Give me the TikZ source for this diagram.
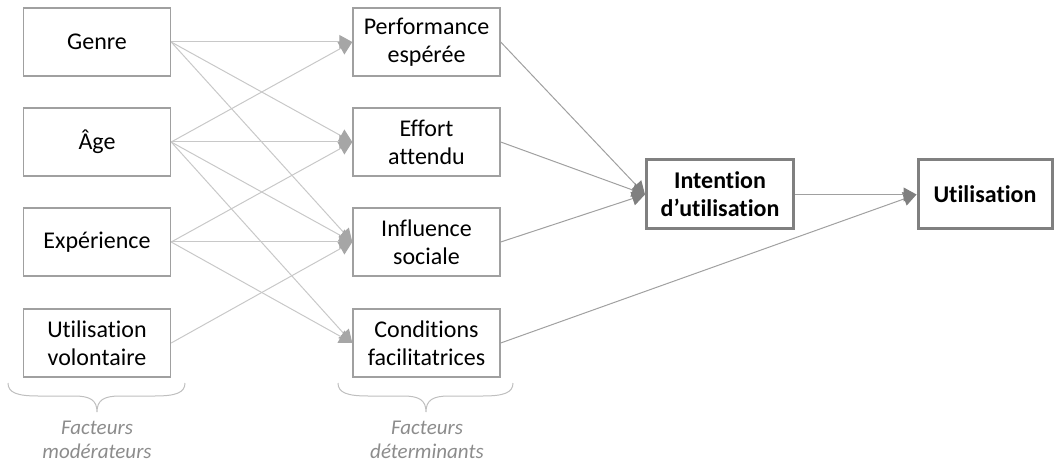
\documentclass[tikz,border=0pt]{standalone}
\usepackage{fontspec}
\setmainfont{Carlito}[RawFeature={-liga}]
\usetikzlibrary{arrows.meta}
\definecolor{boxgray}{HTML}{A0A0A0}
\definecolor{biggray}{HTML}{808080}
\definecolor{lightline}{HTML}{C8C8C8}
\definecolor{lighttip}{HTML}{A6A6A6}
\definecolor{darkline}{HTML}{A0A0A0}
\definecolor{darktip}{HTML}{7F7F7F}
\definecolor{bracegray}{HTML}{BFBFBF}
\definecolor{labelgray}{HTML}{8C8C8C}
\tikzset{
  smallbox/.style={draw=boxgray, line width=1.4pt, rectangle, minimum width=147pt, minimum height=68pt, inner sep=0pt, align=center, font=\fontsize{24}{28}\selectfont},
  bigbox/.style={draw=biggray, line width=3pt, rectangle, minimum height=69pt, inner sep=0pt, align=center, font=\bfseries\fontsize{24}{28}\selectfont},
  modline/.style={draw=lightline, line width=1pt, -{Triangle[length=13pt,width=14pt,color=lighttip]}},
  mainline/.style={draw=darkline, line width=1pt, -{Triangle[length=13pt,width=14pt,color=darktip]}},
  bracestyle/.style={draw=bracegray, line width=1pt},
  grouplabel/.style={text=labelgray, align=center, inner sep=0pt, font=\itshape\fontsize{21}{24}\selectfont}
}
\begin{document}
\begin{tikzpicture}[x=1pt,y=-1pt]
\useasboundingbox (0,0) rectangle (1055,465);
% left column
\node[smallbox] (genre) at (97,42) {Genre};
\node[smallbox] (age) at (97,142) {Âge};
\node[smallbox] (exp) at (97,242) {Expérience};
\node[smallbox] (vol) at (97,343) {Utilisation\\volontaire};
% middle column
\node[smallbox] (perf) at (426.5,42) {Performance\\espérée};
\node[smallbox] (eff) at (426.5,142) {Effort\\attendu};
\node[smallbox] (inf) at (426.5,242) {Influence\\sociale};
\node[smallbox] (cond) at (426.5,343) {Conditions\\facilitatrices};
% right
\node[bigbox, minimum width=147pt] (int) at (720,194.5) {Intention\\d’utilisation};
\node[bigbox, minimum width=134pt] (use) at (985,194.5) {Utilisation};
% moderators
\draw[modline] (genre.east) -- (perf.west);
\draw[modline] (genre.east) -- (eff.west);
\draw[modline] (genre.east) -- (inf.west);
\draw[modline] (age.east) -- (perf.west);
\draw[modline] (age.east) -- (eff.west);
\draw[modline] (age.east) -- (inf.west);
\draw[modline] (age.east) -- (cond.west);
\draw[modline] (exp.east) -- (eff.west);
\draw[modline] (exp.east) -- (inf.west);
\draw[modline] (exp.east) -- (cond.west);
\draw[modline] (vol.east) -- (inf.west);
% main
\draw[mainline] (perf.east) -- (int.west);
\draw[mainline] (eff.east) -- (int.west);
\draw[mainline] (inf.east) -- (int.west);
\draw[mainline] (cond.east) -- (use.west);
\draw[mainline] (int.east) -- (use.west);
% braces
\draw[bracestyle] (8,383) .. controls (8,393) and (18,396) .. (38,396) -- (74,396) .. controls (90,396) and (97,400) .. (97,412) .. controls (97,400) and (104,396) .. (120,396) -- (155,396) .. controls (175,396) and (185,393) .. (185,383);
\draw[bracestyle] (338,383) .. controls (338,393) and (348,396) .. (368,396) -- (403,396) .. controls (419,396) and (426,400) .. (426,412) .. controls (426,400) and (433,396) .. (449,396) -- (483,396) .. controls (503,396) and (513,393) .. (513,383);
\node[grouplabel] (lblmod) at (97,440) {Facteurs\\modérateurs};
\node[grouplabel] (lbldet) at (427,440) {Facteurs\\déterminants};
\end{tikzpicture}
\end{document}
